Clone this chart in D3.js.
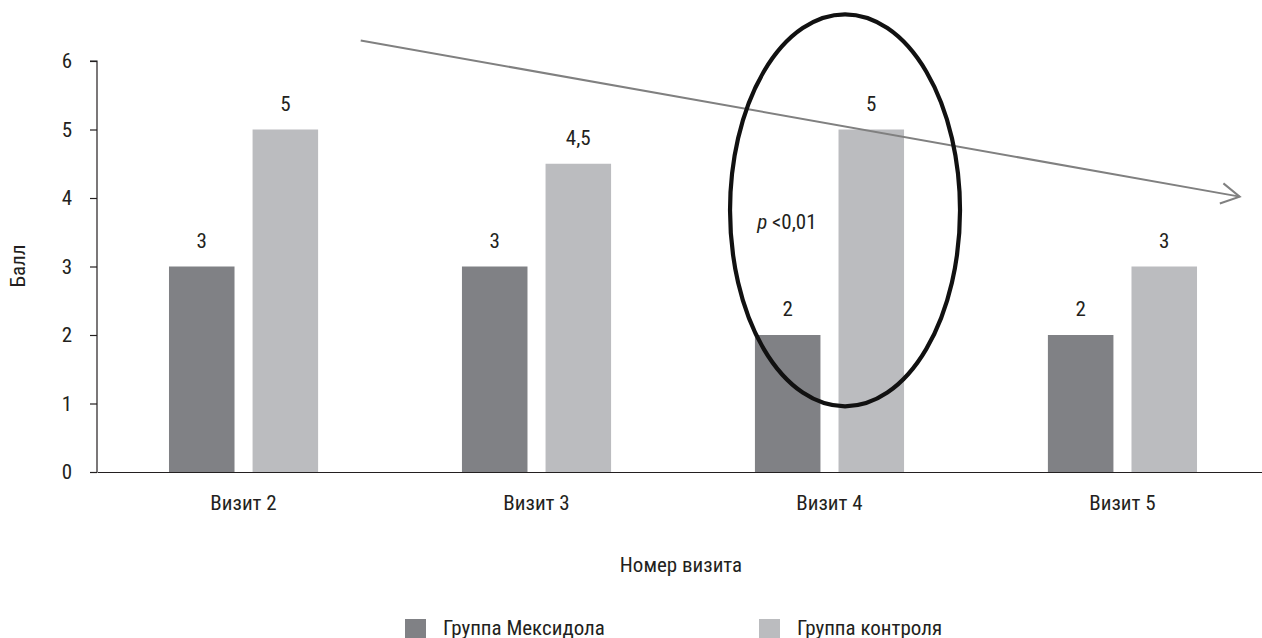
<!DOCTYPE html>
<html>
<head>
<meta charset="utf-8">
<script src="https://cdn.jsdelivr.net/npm/d3@7"></script>
<style>
  html, body { margin: 0; padding: 0; background: #fff; }
  svg { display: block; }
  text { font-family: "Liberation Sans Narrow", "Roboto Condensed", "Roboto", sans-serif; fill: #231f20; }
</style>
</head>
<body>
<svg id="chart" width="1262" height="638"></svg>
<script>
// Visits and scores per group
const visits = ["Визит 2", "Визит 3", "Визит 4", "Визит 5"];
const seriesNames = ["Группа Мексидола", "Группа контроля"];
const mexidol = [3, 3, 2, 2];
const control = [5, 4.5, 5, 3];
const valueLabels = [["3", "3", "2", "2"], ["5", "4,5", "5", "3"]];
const yTicks = [0, 1, 2, 3, 4, 5, 6];
const colors = ["#808185", "#bbbcbf"];

// Trend arrow (category index, score) and highlighted region (index, score)
const trendFrom = [0.9, 6.3];
const trendTo = [3.9, 4.02];
const highlightCenter = [2.553, 3.82];
const highlightLabelAt = [2.253, 3.55];
const highlightText = "<0,01";

const svg = d3.select("#chart");
const plotLeft = 97, plotTop = 61, plotBottom = 472;
const step = 293;
const plotRight = plotLeft + step * visits.length;
const fontStack = "'Liberation Sans Narrow', 'Roboto Condensed', Roboto, sans-serif";
const fs = 21;

const x0 = d3.scaleBand().domain(visits).range([plotLeft, plotRight])
  .paddingInner(0.491).paddingOuter(0.2457);
const x1 = d3.scaleBand().domain([0, 1]).range([0, x0.bandwidth()]).paddingInner(0.216);
const y = d3.scaleLinear().domain([0, 6]).range([plotBottom, plotTop]);
const xIdx = d3.scaleLinear().domain([0, 1]).range([plotLeft, plotLeft + step]);

const data = visits.map((v, i) => ({ visit: v, values: [mexidol[i], control[i]], i }));

// Bars
const groups = svg.append("g").selectAll("g").data(data).join("g")
  .attr("transform", d => `translate(${x0(d.visit)},0)`);
groups.selectAll("rect").data(d => d.values.map((v, s) => ({ v, s }))).join("rect")
  .attr("x", d => x1(d.s))
  .attr("width", x1.bandwidth())
  .attr("y", d => y(d.v))
  .attr("height", d => y(0) - y(d.v))
  .attr("fill", d => colors[d.s]);

// Value labels
groups.selectAll("text.val").data(d => d.values.map((v, s) => ({ v, s, i: d.i }))).join("text")
  .attr("class", "val")
  .attr("x", d => x1(d.s) + x1.bandwidth() / 2)
  .attr("y", d => y(d.v) - 19)
  .attr("text-anchor", "middle")
  .attr("font-size", fs)
  .text(d => valueLabels[d.s][d.i]);

// Y axis
const yAxis = svg.append("g").attr("transform", `translate(${plotLeft},0)`)
  .call(d3.axisLeft(y).tickValues(yTicks).tickSize(7).tickPadding(18).tickFormat(d3.format("d")));
yAxis.select(".domain").attr("stroke", "#231f20").attr("stroke-width", 1.2).attr("d", `M-7,${plotTop}H0V${plotBottom}`);
yAxis.selectAll(".tick line").attr("stroke", "#231f20").attr("stroke-width", 1.2);
yAxis.selectAll(".tick text").attr("font-size", fs).attr("fill", "#231f20").style("font-family", fontStack);

// X axis
const xAxis = svg.append("g").attr("transform", `translate(0,${plotBottom})`)
  .call(d3.axisBottom(x0).tickSize(0).tickPadding(23));
xAxis.select(".domain").attr("stroke", "#231f20").attr("stroke-width", 1.2);
xAxis.selectAll(".tick text").attr("font-size", fs).attr("fill", "#231f20").style("font-family", fontStack);

// Axis titles
svg.append("text").attr("transform", `translate(25,266) rotate(-90)`)
  .attr("text-anchor", "middle").attr("font-size", fs).text("Балл");
svg.append("text").attr("x", 681).attr("y", 572)
  .attr("text-anchor", "middle").attr("font-size", fs).text("Номер визита");

// Legend
const legendX = [405, 759];
const legend = svg.append("g").selectAll("g").data(seriesNames).join("g")
  .attr("transform", (d, i) => `translate(${legendX[i]},619)`);
legend.append("rect").attr("width", 21).attr("height", 21).attr("fill", (d, i) => colors[i]);
legend.append("text").attr("x", 38).attr("y", 16).attr("font-size", fs).text(d => d);

// Trend arrow
const ax1 = xIdx(trendFrom[0]), ay1 = y(trendFrom[1]);
const ax2 = xIdx(trendTo[0]), ay2 = y(trendTo[1]);
svg.append("line").attr("x1", ax1).attr("y1", ay1).attr("x2", ax2).attr("y2", ay2)
  .attr("stroke", "#808080").attr("stroke-width", 2);
const ang = Math.atan2(ay2 - ay1, ax2 - ax1);
const head = 21, spread = Math.PI / 6.2;
svg.append("path")
  .attr("d", `M${ax2 - head * Math.cos(ang - spread)},${ay2 - head * Math.sin(ang - spread)}L${ax2},${ay2}L${ax2 - head * Math.cos(ang + spread)},${ay2 - head * Math.sin(ang + spread)}`)
  .attr("fill", "none").attr("stroke", "#808080").attr("stroke-width", 2);

// Highlight ellipse around the visit with a significant difference
svg.append("ellipse").attr("cx", xIdx(highlightCenter[0])).attr("cy", y(highlightCenter[1]))
  .attr("rx", 115).attr("ry", 196)
  .attr("fill", "none").attr("stroke", "#111").attr("stroke-width", 4.2);

const pText = svg.append("text").attr("x", xIdx(highlightLabelAt[0])).attr("y", y(highlightLabelAt[1]))
  .attr("font-size", fs);
pText.append("tspan").attr("font-style", "italic").text("p");
pText.append("tspan").text(" " + highlightText);
</script>
</body>
</html>
